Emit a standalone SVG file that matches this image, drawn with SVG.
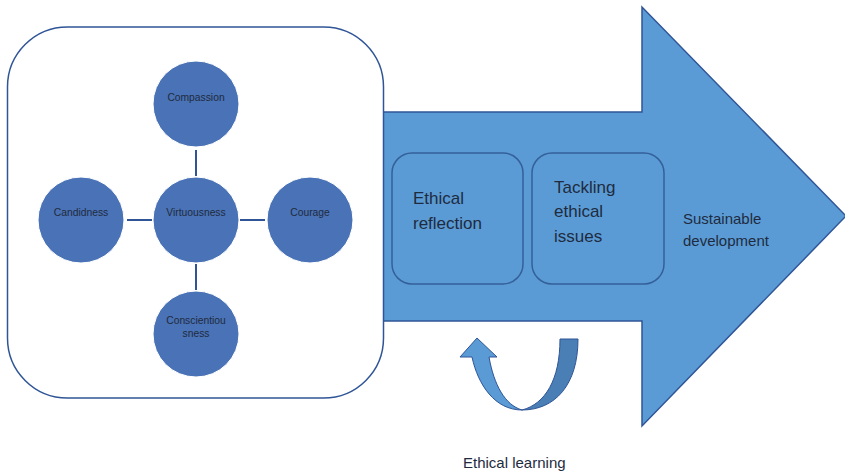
<svg xmlns="http://www.w3.org/2000/svg" width="845" height="474" viewBox="0 0 845 474">
<style>
.circ{fill:#4a72b6;stroke:#ffffff;stroke-width:1}
.ct{font-family:"Liberation Sans",Arial,sans-serif;font-size:10.3px;fill:#1e2b40;text-anchor:middle}
.bt{font-family:"Liberation Sans",Arial,sans-serif;font-size:17px;fill:#1e2b40}
.st{font-family:"Liberation Sans",Arial,sans-serif;font-size:15px;fill:#1e2b40}
.inner{fill:#5b9bd5;stroke:#34609a;stroke-width:1.5}
.conn{stroke:#2f5597;stroke-width:2;fill:none}
</style>
<rect width="845" height="474" fill="#ffffff"/>
<g id="big-arrow">
<path d="M383 112 L642 112 L642 7 L846 216 L642 426 L642 321 L383 321 Z" fill="#5b9bd5" stroke="#2f5597" stroke-width="1.5"/>
</g>
<g id="virtues-box">
<rect x="7.5" y="27" width="376" height="371" rx="60" ry="60" fill="#ffffff" stroke="#2f5597" stroke-width="1.5"/>
</g>
<g id="connectors">
<line class="conn" x1="196" y1="150" x2="196" y2="176"/>
<line class="conn" x1="196" y1="264" x2="196" y2="290"/>
<line class="conn" x1="127" y1="220" x2="152" y2="220"/>
<line class="conn" x1="240" y1="220" x2="265" y2="220"/>
</g>
<g id="compassion">
<circle class="circ" cx="196" cy="104" r="43"/>
<text class="ct" x="196" y="101">Compassion</text>
</g>
<g id="virtuousness">
<circle class="circ" cx="196" cy="220" r="43"/>
<text class="ct" x="196" y="216">Virtuousness</text>
</g>
<g id="candidness">
<circle class="circ" cx="81" cy="220" r="43"/>
<text class="ct" x="81" y="216">Candidness</text>
</g>
<g id="courage">
<circle class="circ" cx="310" cy="220" r="43"/>
<text class="ct" x="310" y="216">Courage</text>
</g>
<g id="conscientiousness">
<circle class="circ" cx="196" cy="334" r="43"/>
<text class="ct" x="196" y="324">Conscientiou</text>
<text class="ct" x="196" y="337">sness</text>
</g>
<g id="ethical-reflection">
<rect class="inner" x="392" y="153" width="131" height="131" rx="20" ry="20"/>
<text class="bt" x="413" y="204">Ethical</text>
<text class="bt" x="413" y="229">reflection</text>
</g>
<g id="tackling-ethical-issues">
<rect class="inner" x="532" y="153" width="132" height="131" rx="20" ry="20"/>
<text class="bt" x="554" y="193">Tackling</text>
<text class="bt" x="554" y="217">ethical</text>
<text class="bt" x="554" y="242">issues</text>
</g>
<g id="sustainable-development">
<text class="st" x="683" y="224">Sustainable</text>
<text class="st" x="683" y="246">development</text>
</g>
<g id="ethical-learning">
<path d="M560 339 L578 339 C578 385 555 410 522 410 C545 404 560 380 560 339 Z" fill="#4a7fb5" stroke="#2f5597" stroke-width="1"/>
<path d="M460 357 L477 338 L497 357 L489 357 C494 385 505 405 522 410 C495 410 478 385 472 357 Z" fill="#5b9bd5" stroke="#2f5597" stroke-width="1"/>
<text class="st" x="463" y="468">Ethical learning</text>
</g>
</svg>
